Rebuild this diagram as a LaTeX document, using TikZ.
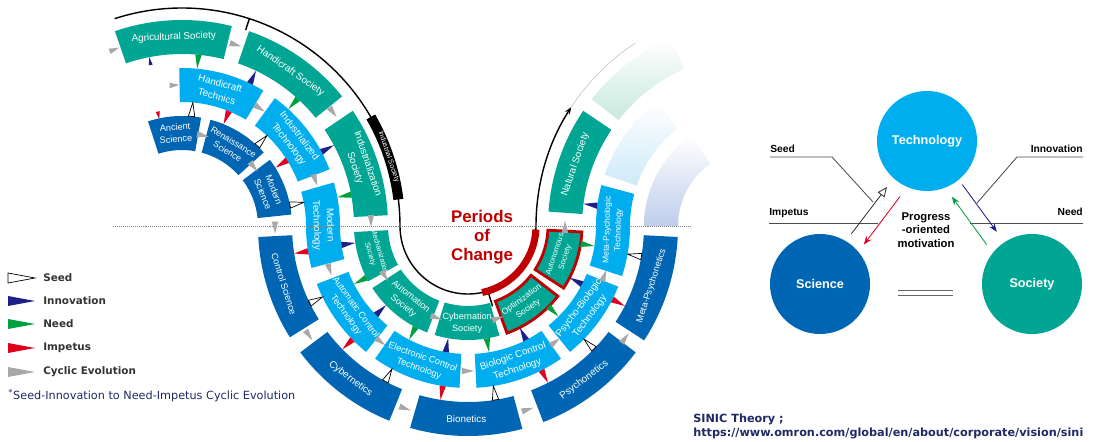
\documentclass[tikz,border=0pt]{standalone}
\usepackage{fontspec}
\setmainfont{Liberation Sans}
\newfontfamily\verd{DejaVu Sans}
\usetikzlibrary{calc, arrows.meta}

\definecolor{soc}{RGB}{0,166,147}
\definecolor{tec}{RGB}{0,174,239}
\definecolor{sci}{RGB}{0,102,179}
\definecolor{navy}{RGB}{29,32,136}
\definecolor{needg}{RGB}{0,160,64}
\definecolor{impred}{RGB}{225,0,30}
\definecolor{cycgray}{RGB}{168,168,168}
\definecolor{chred}{RGB}{192,0,0}
\definecolor{socpale}{RGB}{200,232,222}
\definecolor{tecpale}{RGB}{205,234,248}
\definecolor{scipale}{RGB}{190,205,235}
\definecolor{inknavy}{RGB}{30,42,100}

\tikzstyle{socbox} = [fill=soc]
\tikzstyle{tecbox} = [fill=tec]
\tikzstyle{scibox} = [fill=sci]
\tikzstyle{chbox} = [fill=soc, draw=chred, line width=2pt]
\tikzstyle{lab} = [text=white, align=center, inner sep=0pt, font=\fontsize{7}{9.5}\selectfont]
\tikzstyle{labm} = [lab, font=\fontsize{6.5}{8.5}\selectfont]
\tikzstyle{labs} = [lab, font=\fontsize{5.5}{7.5}\selectfont]
\tikzstyle{seedmk} = [fill=white, draw=black, line width=0.5pt]
\tikzstyle{innmk} = [fill=navy]
\tikzstyle{needmk} = [fill=needg]
\tikzstyle{impmk} = [fill=impred]
\tikzstyle{cycmk} = [fill=cycgray]
\tikzstyle{blk} = [draw=black, line width=1pt]
\tikzstyle{lgd} = [anchor=west, inner sep=0pt, text=black!80, font=\verd\bfseries\fontsize{7.4}{9}\selectfont]
\tikzstyle{circ} = [circle, minimum size=2.5cm, inner sep=0pt, text=white, font=\bfseries\fontsize{9}{11}\selectfont]
\tikzstyle{tag} = [inner sep=0pt, font=\bfseries\fontsize{7.3}{9}\selectfont]
\tikzstyle{lead} = [draw=black!70, line width=0.6pt]
\tikzstyle{foot} = [inner sep=0pt, text=inknavy, font=\verd\bfseries\fontsize{8}{10}\selectfont]

% annular box: centre, start angle, end angle, inner r, outer r, style
\newcommand{\seg}[6]{\path[#6, shift={(#1)}] (#2:#4) arc[start angle=#2, end angle=#3, radius=#4] -- (#3:#5) arc[start angle=#3, end angle=#2, radius=#5] -- cycle;}
% wedge: style, centre, angle, radius, direction
\newcommand{\trimark}[5]{\path[#1, shift={(#2)}, shift={(#3:#4)}, rotate=#5] (7,0) -- (-7,3.2) -- (-7,-3.2) -- cycle;}
\newcommand{\cycmark}[4]{\path[cycmk, shift={(#1)}, shift={(#2:#3)}, rotate=#4] (6,0) -- (-6,3.2) -- (-6,-3.2) -- cycle;}

\begin{document}
\begin{tikzpicture}[x=0.025cm, y=0.025cm]
\useasboundingbox (0,0) rectangle (1095,441);
\coordinate (c1) at (182,215);
\coordinate (c2) at (468,215);
\coordinate (c3) at (754,215);

% future, faded
\seg{c3}{142}{114}{172}{206}{bottom color=socpale, top color=white}
\seg{c3}{161}{128}{124}{158}{bottom color=tecpale, top color=white}
\seg{c3}{180}{125}{76}{110}{bottom color=scipale, top color=white}

% stubs on the left edge
\path[cycmk, shift={(c1)}, shift={(111:189)}, rotate=21] (5,0) -- (-5,2.8) -- (-5,-2.8) -- cycle;
\path[cycmk, shift={(c1)}, shift={(93:141)}, rotate=3] (5,0) -- (-5,2.8) -- (-5,-2.8) -- cycle;
\path[innmk, shift={(c1)}, shift={(101:168)}, rotate=101] (4,0) -- (-4,2) -- (-4,-2) -- cycle;
\path[impmk, shift={(c1)}, shift={(102:113)}, rotate=282] (4,0) -- (-4,2) -- (-4,-2) -- cycle;

% the S-shaped time line
\draw[blk, -{Stealth[length=5pt, width=4pt]}] ($(c1)+(108:218)$) arc[start angle=108, end angle=0, radius=218]
  arc[start angle=180, end angle=360, radius=68] arc[start angle=180, end angle=147, radius=218];
\draw[gray!50, line width=0.4pt, shift={(c3)}] (147:218) arc[start angle=147, end angle=123, radius=218];
\draw[blk, shift={(c1)}] (72:218) -- (72:206);
\draw[blk, shift={(c2)}] (287:68) -- (287:84);
\seg{c1}{30}{7}{213}{223}{fill=black}
\node[lab, font=\fontsize{5}{6}\selectfont, rotate=-71.5] (indus) at ($(c1)+(18.5:218)$) {Industrial Society};
\draw[chred, line width=5pt, shift={(c2)}] (282:68) arc[start angle=282, end angle=357, radius=68];
\node[text=chred, align=center, font=\bfseries\fontsize{12}{13.5}\selectfont] (period) at (482,204) {Periods\\of\\Change};

% society ring
\seg{c1}{109}{76}{172}{206}{socbox}
\seg{c1}{71}{39}{172}{206}{socbox}
\seg{c1}{34}{3}{172}{206}{socbox}
\seg{c2}{183}{209}{80}{114}{socbox}
\seg{c2}{213}{249}{80}{114}{socbox}
\seg{c2}{253}{286}{80}{114}{socbox}
\seg{c2}{290}{322}{80}{114}{chbox}
\seg{c2}{327}{357}{80}{114}{chbox}
\seg{c3}{176}{146}{172}{206}{socbox}

% technology ring
\seg{c1}{91}{59}{124}{158}{tecbox}
\seg{c1}{54}{21}{124}{158}{tecbox}
\path[tecbox] ($(c1)+(16:158)$) arc[start angle=16, end angle=0, radius=158] arc[start angle=180, end angle=195, radius=128]
  -- ($(c2)+(195:162)$) arc[start angle=195, end angle=180, radius=162] arc[start angle=0, end angle=16, radius=124] -- cycle;
\seg{c2}{201}{231}{128}{162}{tecbox}
\seg{c2}{235}{267}{128}{162}{tecbox}
\seg{c2}{273}{305}{128}{162}{tecbox}
\seg{c2}{309}{338}{128}{162}{tecbox}
\path[tecbox] ($(c2)+(342:128)$) arc[start angle=342, end angle=360, radius=128] arc[start angle=180, end angle=165, radius=158]
  -- ($(c3)+(165:124)$) arc[start angle=165, end angle=180, radius=124] arc[start angle=0, end angle=-18, radius=162] -- cycle;

% science ring
\seg{c1}{108}{80}{76}{110}{scibox}
\seg{c1}{75}{42}{76}{110}{scibox}
\seg{c1}{37}{6}{76}{110}{scibox}
\seg{c2}{183}{212}{176}{210}{scibox}
\seg{c2}{217}{248}{176}{210}{scibox}
\seg{c2}{254}{285}{176}{210}{scibox}
\seg{c2}{291}{323}{176}{210}{scibox}
\seg{c2}{327}{357}{176}{210}{scibox}

\draw[gray, line width=0.4pt, densely dotted] (113,215) -- (690,215);

% labels
\node[lab, rotate=2.5] (agri) at ($(c1)+(92.5:189)$) {Agricultural Society};
\node[lab, rotate=-35] (hsoc) at ($(c1)+(55:189)$) {Handicraft Society};
\node[lab, rotate=-71.5] (isoc) at ($(c1)+(18.5:189)$) {Industrialization\\Society};
\node[lab, font=\fontsize{5.2}{7}\selectfont, rotate=-74] (mech) at ($(c2)+(196:97)$) {Mechanization\\Society};
\node[labm, rotate=-39] (auto) at ($(c2)+(231:97)$) {Automation\\Society};
\node[labm, rotate=-0.5] (cybn) at ($(c2)+(269.5:97)$) {Cybernation\\Society};
\node[lab, font=\fontsize{6}{8}\selectfont, rotate=36] (opt) at ($(c2)+(306:97)$) {Optimization\\Society};
\node[labs, rotate=72] (autn) at ($(c2)+(342:97)$) {Autonomous\\Society};
\node[lab, rotate=71] (nat) at ($(c3)+(161:189)$) {Natural Society};

\node[lab, rotate=-15] (htec) at ($(c1)+(75:141)$) {Handicraft\\Technics};
\node[lab, rotate=-52.5] (itec) at ($(c1)+(37.5:141)$) {Industrialized\\Technology};
\node[lab, rotate=-88] (mtec) at (323,216) {Modern\\Technology};
\node[labm, rotate=-54] (act) at ($(c2)+(216:145)$) {Automatic Control\\Technology};
\node[labm, rotate=-19] (ect) at ($(c2)+(251:145)$) {Electronic Control\\Technology};
\node[lab, rotate=19] (bct) at ($(c2)+(289:145)$) {Biologic Control\\Technology};
\node[lab, rotate=53.5] (pbt) at ($(c2)+(323.5:145)$) {Psycho-Biologic\\Technology};
\node[lab, font=\fontsize{6}{8}\selectfont, rotate=88] (mpt) at (613,211) {Meta-Psychologic\\Technology};

\node[labm, rotate=4] (asci) at ($(c1)+(94:93)$) {Ancient\\Science};
\node[lab, font=\fontsize{6.3}{8}\selectfont, rotate=-31.5] (rsci) at ($(c1)+(58.5:93)$) {Renaissance\\Science};
\node[labm, rotate=-68.5] (msci) at ($(c1)+(21.5:93)$) {Modern\\Science};
\node[labm, rotate=-72.5] (csci) at ($(c2)+(197.5:193)$) {Control Science};
\node[lab, rotate=-37.5] (cybs) at ($(c2)+(232.5:193)$) {Cybernetics};
\node[lab, rotate=-0.5] (bio) at ($(c2)+(269.5:193)$) {Bionetics};
\node[lab, rotate=37] (psy) at ($(c2)+(307:193)$) {Psychonetics};
\node[labm, rotate=72] (mpsy) at ($(c2)+(342:193)$) {Meta-Psychonetics};

% need and innovation, society <-> technology
\trimark{needmk}{c1}{84.5}{165}{264.5}
\trimark{needmk}{c1}{47.7}{165}{227.7}
\trimark{needmk}{c1}{10.5}{165}{190.5}
\trimark{innmk}{c1}{64.5}{165}{64.5}
\trimark{innmk}{c1}{28}{165}{28}
\trimark{innmk}{c2}{188.5}{121}{8.5}
\trimark{innmk}{c2}{224}{121}{44}
\trimark{innmk}{c2}{260}{121}{80}
\trimark{innmk}{c2}{297}{121}{117}
\trimark{innmk}{c2}{333}{121}{153}
\trimark{needmk}{c2}{207}{121}{207}
\trimark{needmk}{c2}{242.6}{121}{242.6}
\trimark{needmk}{c2}{279.5}{121}{279.5}
\trimark{needmk}{c2}{315}{121}{315}
\trimark{needmk}{c2}{351}{121}{351}
\trimark{innmk}{c3}{172.6}{165}{172.6}

% seed and impetus, science <-> technology
\trimark{seedmk}{c1}{85}{117}{85}
\trimark{seedmk}{c1}{46.8}{117}{46.8}
\trimark{seedmk}{c1}{11}{117}{11}
\trimark{impmk}{c1}{67.8}{117}{247.8}
\trimark{impmk}{c1}{32}{117}{212}
\trimark{impmk}{c2}{189}{169}{189}
\trimark{impmk}{c2}{224.5}{169}{224.5}
\trimark{impmk}{c2}{261}{169}{261}
\trimark{impmk}{c2}{297}{169}{297}
\trimark{impmk}{c2}{333}{169}{333}
\trimark{seedmk}{c2}{206}{169}{26}
\trimark{seedmk}{c2}{242}{169}{62}
\trimark{seedmk}{c2}{279}{169}{99}
\trimark{seedmk}{c2}{315.7}{169}{135.7}
\trimark{seedmk}{c2}{350}{169}{170}

% cyclic evolution
\cycmark{c1}{73.5}{189}{-16.5}
\cycmark{c1}{37}{189}{-53}
\cycmark{c1}{1.5}{189}{-88.5}
\cycmark{c1}{56.5}{141}{-33.5}
\cycmark{c1}{19}{141}{-71}
\cycmark{c1}{77}{93}{-13}
\cycmark{c1}{39.5}{93}{-50.5}
\cycmark{c2}{211}{97}{301}
\cycmark{c2}{251}{97}{341}
\cycmark{c2}{288}{97}{378}
\cycmark{c2}{359.5}{97}{449.5}
\cycmark{c2}{197.5}{145}{287.5}
\cycmark{c2}{233}{145}{323}
\cycmark{c2}{270}{145}{360}
\cycmark{c2}{307}{145}{397}
\cycmark{c2}{340}{145}{430}
\cycmark{c2}{180.5}{193}{270.5}
\cycmark{c2}{214.5}{193}{304.5}
\cycmark{c2}{251}{193}{341}
\cycmark{c2}{288}{193}{378}
\cycmark{c2}{324.5}{193}{414.5}

% legend
\path[seedmk] (8,168) -- (35,163) -- (8,158) -- cycle;
\path[innmk] (8,145) -- (35,140) -- (8,135) -- cycle;
\path[needmk] (8,122) -- (35,117) -- (8,112) -- cycle;
\path[impmk] (8,98) -- (35,93) -- (8,88) -- cycle;
\path[cycmk] (8,74) -- (35,69) -- (8,64) -- cycle;
\node[lgd] (lseed) at (43,163) {Seed};
\node[lgd] (linn) at (43,140) {Innovation};
\node[lgd] (lneed) at (43,117) {Need};
\node[lgd] (limp) at (43,93) {Impetus};
\node[lgd] (lcyc) at (43,69) {Cyclic Evolution};
\node[anchor=west, inner sep=0pt, text=inknavy, font=\verd\fontsize{8}{10}\selectfont] (fnote) at (8,45) {\textsuperscript{*}Seed-Innovation to Need-Impetus Cyclic Evolution};

% SINIC triangle
\node[circ, fill=tec] (tech) at (927,300) {Technology};
\node[circ, fill=sci] (scic) at (820,157) {Science};
\node[circ, fill=soc] (socc) at (1032,157) {Society};

\node[tag, anchor=base west] (seedlab) at (770,288) {Seed};
\node[tag, anchor=base west] (implab) at (769,225) {Impetus};
\node[tag, anchor=base east] (innlab) at (1083,288) {Innovation};
\node[tag, anchor=base east] (needlab) at (1083,225) {Need};
\coordinate (seedA) at (770,284);
\coordinate (seedB) at (832,284);
\coordinate (seedC) at (873,239);
\coordinate (impA) at (769,218);
\coordinate (impB) at (878,218);
\coordinate (innA) at (1083,284);
\coordinate (innB) at (1017,284);
\coordinate (innC) at (977,238);
\coordinate (needA) at (1083,218);
\coordinate (needB) at (970,218);
\draw[lead] (seedA) -- (seedB) -- (seedC);
\draw[lead] (impA) -- (impB);
\draw[lead] (innA) -- (innB) -- (innC);
\draw[lead] (needA) -- (needB);

\draw[black!80, line width=0.6pt, -{Triangle[open, length=7pt, width=6pt]}] ($(scic)+(58:59)$) -- ($(tech)+(229:61)$);
\draw[impred, line width=0.6pt, -{Stealth[length=6pt, width=4.5pt]}] ($(tech)+(244:62)$) -- ($(scic)+(42:59)$);
\draw[navy, line width=0.6pt, -{Stealth[length=6pt, width=4.5pt]}] ($(tech)+(309:56)$) -- ($(socc)+(124:63)$);
\draw[needg, line width=0.6pt, -{Stealth[length=6pt, width=4.5pt]}] ($(socc)+(139:60)$) -- ($(tech)+(294:61)$);

\node[align=center, inner sep=0pt, font=\bfseries\fontsize{8}{9.6}\selectfont] (motiv) at (926,211) {Progress\\-oriented\\motivation};
\draw[black!60, line width=0.7pt, double=white, double distance=3.3pt, shorten <=19.8pt, shorten >=20.5pt]
  ([yshift=-6.5pt]scic.east) -- ([yshift=-6.5pt]socc.west);

\node[foot, anchor=base west] (sinic) at (693,19) {SINIC Theory ;};
\node[foot, anchor=base west] (url) at (693,5) {https://www.omron.com/global/en/about/corporate/vision/sini};
\end{tikzpicture}
\end{document}
